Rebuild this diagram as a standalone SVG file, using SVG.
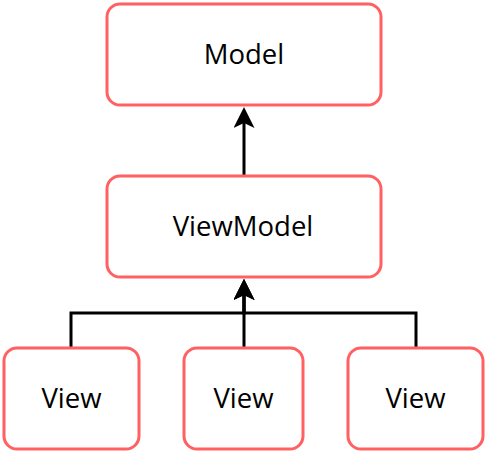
<svg xmlns="http://www.w3.org/2000/svg" width="486" height="452" viewBox="0 0 486 452">
<style>
.box{fill:#fff;stroke:#ff6163;stroke-width:3}
.lbl{font-family:"Open Sans","Noto Sans","DejaVu Sans",sans-serif;font-size:27.5px;fill:#000;text-anchor:middle}
.edge{fill:none;stroke:#000;stroke-width:3}
</style>
<defs>
<marker id="arr" markerUnits="userSpaceOnUse" markerWidth="22" markerHeight="22" viewBox="0 0 22 22" refX="5" refY="10.5" orient="auto">
<path d="M0,0 L21,10.5 L0,21 L5,10.5 Z" fill="#000"/>
</marker>
</defs>
<rect width="486" height="452" fill="#fff"/>
<g id="edges">
<path class="edge" d="M244,175 V123" marker-end="url(#arr)"/>
<path class="edge" d="M71,347 V313 H244 V295" marker-end="url(#arr)"/>
<path class="edge" d="M416,347 V313 H244 V295" marker-end="url(#arr)"/>
<path class="edge" d="M244,347 V295" marker-end="url(#arr)"/>
</g>
<g id="model"><rect class="box" x="107" y="4" width="274" height="101" rx="13"/><text class="lbl" x="244" y="64">Model</text></g>
<g id="viewmodel"><rect class="box" x="107" y="176" width="274" height="101" rx="13"/><text class="lbl" x="243" y="236">ViewModel</text></g>
<g id="view1"><rect class="box" x="4" y="348" width="135" height="101" rx="13"/><text class="lbl" x="71.5" y="408">View</text></g>
<g id="view2"><rect class="box" x="184" y="348" width="119" height="101" rx="13"/><text class="lbl" x="243.5" y="408">View</text></g>
<g id="view3"><rect class="box" x="348" y="348" width="135" height="101" rx="13"/><text class="lbl" x="415.5" y="408">View</text></g>
</svg>
